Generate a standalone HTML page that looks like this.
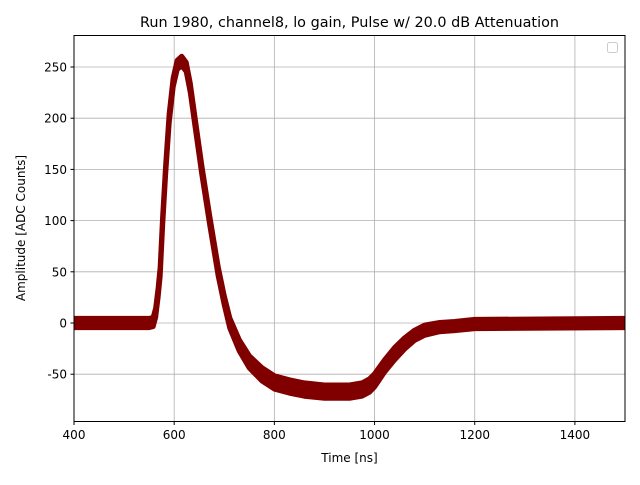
<!DOCTYPE html>
<html><head><meta charset="utf-8"><style>
body{margin:0;background:#fff;}
svg text{font-family:"DejaVu Sans","Liberation Sans",sans-serif;fill:#000;}
</style></head><body>
<svg id="chart" width="640" height="480" viewBox="0 0 640 480" xmlns="http://www.w3.org/2000/svg">
<rect width="640" height="480" fill="#fff"/>
<defs><clipPath id="plotclip"><rect x="74" y="35.5" width="551" height="386"/></clipPath></defs>
<g id="grid"></g>
<g id="series" clip-path="url(#plotclip)"></g>
<rect x="74" y="35.5" width="551" height="386" fill="none" stroke="#000" stroke-width="1"/>
<g id="ticks"></g>
<text x="349.5" y="27" font-size="14.4" text-anchor="middle">Run 1980, channel8, lo gain, Pulse w/ 20.0 dB Attenuation</text>
<text x="349.5" y="462" font-size="12" text-anchor="middle">Time [ns]</text>
<text transform="translate(25,228) rotate(-90)" font-size="12" text-anchor="middle">Amplitude [ADC Counts]</text>
<rect x="607.5" y="42.5" width="10" height="10" rx="2" fill="none" stroke="#ccc"/>
</svg>
<script>
const times=[400,550,558,563,568,572,577,583,590,598,606,615,624,632,642,655,671,688,700,711,730,750,775,800,830,860,900,950,975,990,1000,1020,1040,1060,1080,1100,1130,1160,1200,1500];
const amps=[0,0,1,10,30,50,100,150,200,235,252,256,250,230,195,150,100,50,22,0,-22,-38,-50,-58,-62,-65,-67,-67,-65,-61,-56,-42,-30,-20,-12,-7,-4,-3,-1,0];
const halfW=[4.5,4.5,4.5,4.5,4.5,4.5,4.5,4.5,4.5,4.5,4.5,4.5,4.5,4.5,4.5,4.5,4.5,4.5,4.5,5,5.5,6,6.5,6.5,6.5,6.5,6.5,6.5,6.5,6.5,6.5,6,6,5.5,5,5,4.5,4.5,4.5,4.5];
const xTicks=[400,600,800,1000,1200,1400];
const yTicks=[-50,0,50,100,150,200,250];
const X=t=>74+(t-400)*551/1100;
const Y=v=>323-v*1.024;
const ns="http://www.w3.org/2000/svg";
function mk(tag,attrs,parent){const e=document.createElementNS(ns,tag);for(const k in attrs)e.setAttribute(k,attrs[k]);parent.appendChild(e);return e;}
const grid=document.getElementById('grid'),ticks=document.getElementById('ticks'),ser=document.getElementById('series');
xTicks.forEach(t=>{const x=X(t);
 const g=mk('line',{x1:x,x2:x,y1:35.5,y2:421.5,stroke:'#b0b0b0','stroke-width':0.8},grid);
 
 
 mk('line',{x1:x,x2:x,y1:421.5,y2:425,stroke:'#000'},ticks);
 const tx=mk('text',{x:x,y:439,'font-size':12,'text-anchor':'middle'},ticks);tx.textContent=t;
 
 
});
yTicks.forEach(v=>{const y=Y(v);
 const g=mk('line',{x1:74,x2:625,y1:y,y2:y,stroke:'#b0b0b0','stroke-width':0.8},grid);
 
 
 mk('line',{x1:70.5,x2:74,y1:y,y2:y,stroke:'#000'},ticks);
 const tx=mk('text',{x:67,y:y+4.5,'font-size':12,'text-anchor':'end'},ticks);tx.textContent=v;
 
 
});
let up=[],lo=[];
times.forEach((t,i)=>{up.push(X(t)+','+Y(amps[i]+halfW[i]));lo.unshift(X(t)+','+Y(amps[i]-halfW[i]));});
const band=mk('polygon',{points:up.concat(lo).join(' '),fill:'#800000',stroke:'#800000','stroke-width':5,'stroke-linejoin':'round'},ser);


</script>
</body></html>
